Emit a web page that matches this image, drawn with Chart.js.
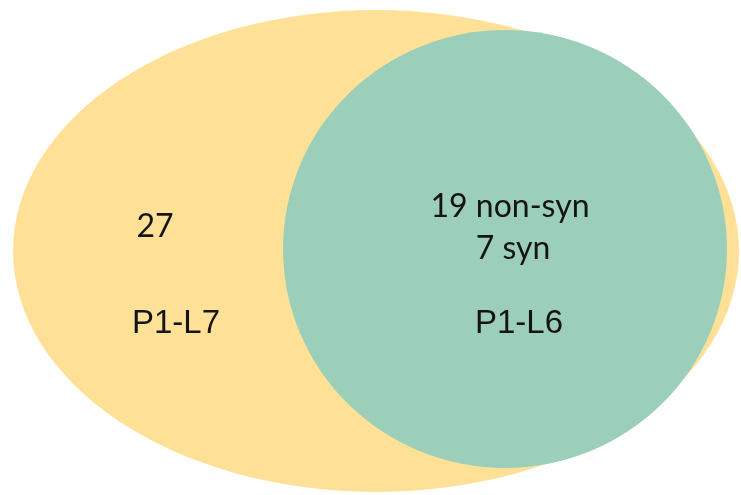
<!DOCTYPE html>
<html>
<head>
<meta charset="utf-8">
<script src="https://cdn.jsdelivr.net/npm/chart.js@4"></script>
<style>
    html, body { margin: 0; padding: 0; background: #ffffff; }
    #wrap { width: 741px; height: 495px; }
</style>
</head>
<body>
<div id="wrap"><canvas id="vennChart" width="741" height="495"></canvas></div>
<script>
// Venn sets: centre and radii in chart units
const setNames = ['P1-L7', 'P1-L6'];
const setCenterX = [376, 505];
const setCenterY = [251, 249];
const setRadiusX = [363, 222];
const setRadiusY = [241, 219];
const setColors = ['#FEE197', '#9BCFBA'];

// Region labels
const regionTexts = ['27', '19 non-syn', '7 syn'];
const regionX = [155, 510, 513];
const regionY = [237, 217, 259];
const setLabelX = [176, 519];
const setLabelY = [333, 333];

// draws each set as an ellipse using the chart scales
const ellipsePlugin = {
    id: 'ellipses',
    beforeDatasetsDraw: function(chart) {
        const ctx = chart.ctx;
        const xs = chart.scales.x;
        const ys = chart.scales.y;
        chart.data.datasets.forEach(function(ds) {
            const p = ds.data[0];
            const cx = xs.getPixelForValue(p.x);
            const cy = ys.getPixelForValue(p.y);
            const rx = Math.abs(xs.getPixelForValue(p.x + p.rx) - cx);
            const ry = Math.abs(ys.getPixelForValue(p.y + p.ry) - cy);
            ctx.save();
            ctx.beginPath();
            ctx.ellipse(cx, cy, rx, ry, 0, 0, Math.PI * 2);
            ctx.fillStyle = ds.backgroundColor;
            ctx.fill();
            ctx.restore();
        });
    },
    afterDatasetsDraw: function(chart) {
        const ctx = chart.ctx;
        const xs = chart.scales.x;
        const ys = chart.scales.y;
        ctx.save();
        ctx.textAlign = 'center';
        ctx.textBaseline = 'alphabetic';
        ctx.fillStyle = '#141414';
        ctx.font = "32px Lato, 'Open Sans', sans-serif";
        regionTexts.forEach(function(t, i) {
            ctx.fillText(t, xs.getPixelForValue(regionX[i]), ys.getPixelForValue(regionY[i]));
        });
        ctx.font = "33px 'Liberation Sans', Arial, sans-serif";
        setNames.forEach(function(t, i) {
            ctx.fillText(t, xs.getPixelForValue(setLabelX[i]), ys.getPixelForValue(setLabelY[i]));
        });
        ctx.restore();
    }
};

const ctx = document.getElementById('vennChart').getContext('2d');
new Chart(ctx, {
    type: 'scatter',
    data: {
        datasets: setNames.map(function(name, i) {
            return {
                label: name,
                data: [{ x: setCenterX[i], y: setCenterY[i], rx: setRadiusX[i], ry: setRadiusY[i] }],
                backgroundColor: setColors[i],
                pointRadius: 0,
                pointHoverRadius: 0
            };
        })
    },
    options: {
        responsive: false,
        animation: false,
        layout: { padding: 0 },
        scales: {
            x: { type: 'linear', min: 0, max: 741, display: false },
            y: { type: 'linear', min: 0, max: 495, reverse: true, display: false }
        },
        plugins: {
            legend: { display: false },
            tooltip: { enabled: false }
        }
    },
    plugins: [ellipsePlugin]
});
</script>
</body>
</html>
